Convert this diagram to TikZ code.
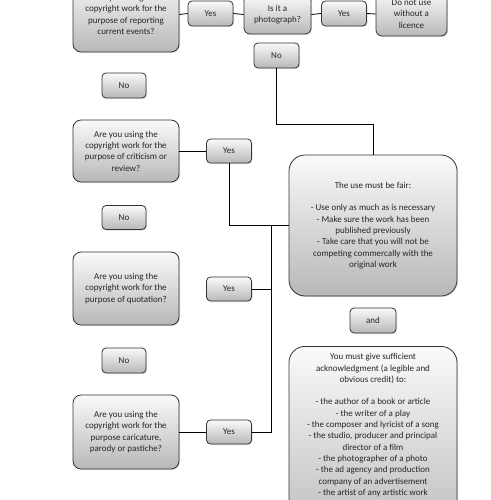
\documentclass[tikz,border=0pt]{standalone}
\usepackage{fontspec}
\setmainfont{Carlito}
\usepackage{tikz}
\usetikzlibrary{shadows}

\begin{document}
\begin{tikzpicture}[x=1pt,y=-1pt,
    box/.style={draw=black!80,line width=0.8pt,rounded corners=8pt,top color=black!2,bottom color=black!28,
        drop shadow={opacity=0.25,shadow xshift=1pt,shadow yshift=-1pt},
        align=center,font=\fontsize{9}{11.3}\selectfont,text=black!85,inner sep=0pt},
    small/.style={box,rounded corners=4pt,minimum width=45pt,minimum height=25pt},
    quest/.style={box,minimum width=106pt},
    big/.style={box,rounded corners=16pt,minimum width=168pt},
    link/.style={draw=black,line width=0.8pt}]
    \useasboundingbox (0,0) rectangle (490,500);
    \clip (0,0) rectangle (490,500);
    % top row
    \node[quest,minimum height=75pt] (report) at (126,14.5) {Are you using the\\copyright work for the\\purpose of reporting\\current events?};
    \node[small] (yesreport) at (210.5,13.5) {Yes};
    \node[box,rounded corners=6pt,minimum width=67pt,minimum height=39pt] (photo) at (277.5,14.5) {Is it a\\photograph?};
    \node[small] (yesphoto) at (344,13.5) {Yes};
    \node[box,rounded corners=6pt,minimum width=71pt,minimum height=44pt] (licence) at (411.5,14) {Do not use\\without a\\licence};
    \node[small] (nophoto) at (276.5,55.5) {No};
    % left column
    \node[small,minimum width=44pt] (noreport) at (124,85.5) {No};
    \node[quest,minimum height=62pt] (critic) at (126,151) {Are you using the\\copyright work for the\\purpose of criticism or\\review?};
    \node[small,minimum height=24pt] (yescritic) at (229,151) {Yes};
    \node[small,minimum width=44pt,minimum height=24pt] (nocritic) at (124,217.5) {No};
    \node[quest,minimum height=73pt] (quote) at (126,288.5) {Are you using the\\copyright work for the\\purpose of quotation?};
    \node[small,minimum height=24pt] (yesquote) at (229,289) {Yes};
    \node[small,minimum width=44pt] (noquote) at (124,360.5) {No};
    \node[quest,minimum height=74pt] (parody) at (126,432) {Are you using the\\copyright work for the\\purpose caricature,\\parody or pastiche?};
    \node[small,minimum height=24pt] (yesparody) at (229,432) {Yes};
    % right column
    \node[big,minimum height=141pt] (fair) at (373,225.5) {The use must be fair:\\[11.3pt]- Use only as much as is necessary\\- Make sure the work has been\\published previously\\- Take care that you will not be\\competing commercally with the\\original work};
    \node[small,minimum width=46pt] (and) at (373,320.5) {and};
    \node[big,minimum height=190pt,anchor=north] (credit) at (373,346) {\\[2pt]You must give sufficient\\acknowledgment (a legible and\\obvious credit) to:\\[11.3pt]- the author of a book or article\\- the writer of a play\\- the composer and lyricist of a song\\- the studio, producer and principal\\director of a film\\- the photographer of a photo\\- the ad agency and production\\company of an advertisement\\- the artist of any artistic work\\ \\ \\ \\ \\ };
    \coordinate (bus) at (271,225.5);
    % connectors
    \draw[link] (report.east)--(yesreport.west) (yesreport.east)--(photo.west) (photo.east)--(yesphoto.west) (yesphoto.east)--(licence.west);
    \draw[link] (nophoto.south)--++(0,55.5)-|(fair.north);
    \draw[link] (critic.east)--(yescritic.west);
    \draw[link] (yescritic.south)|-(fair.west);
    \draw[link] (yesquote.east)--(yesquote.east-|bus);
    \draw[link] (parody.east)--(yesparody.west);
    \draw[link] (yesparody.east)-|(bus);
\end{tikzpicture}
\end{document}
